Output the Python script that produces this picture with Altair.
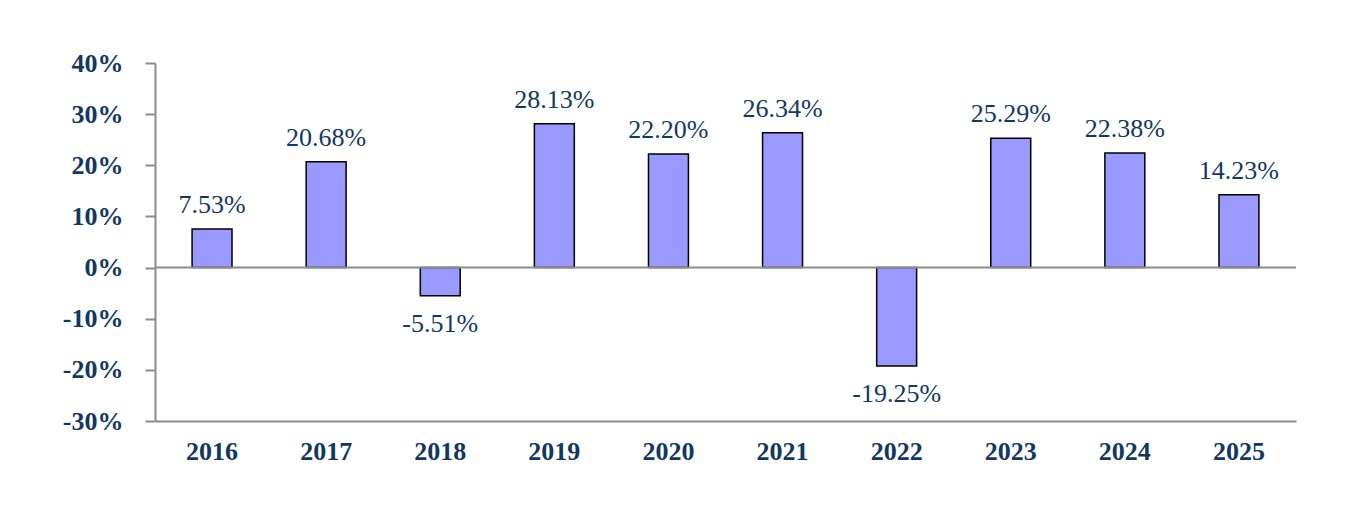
import altair as alt
import pandas as pd

years = ["2016", "2017", "2018", "2019", "2020", "2021", "2022", "2023", "2024", "2025"]
returns = [7.53, 20.68, -5.51, 28.13, 22.20, 26.34, -19.25, 25.29, 22.38, 14.23]
y_ticks = [-0.3, -0.2, -0.1, 0.0, 0.1, 0.2, 0.3, 0.4]

df = pd.DataFrame({"year": years, "ret": [r / 100 for r in returns]})
df["label"] = [f"{r:.2f}%" for r in returns]

navy = "#13385f"
axis_gray = "#8c8c8c"
serif = "Liberation Serif"

x_enc = alt.X(
    "year:N",
    sort=years,
    title=None,
    scale=alt.Scale(paddingInner=0.65, paddingOuter=0.325),
    axis=alt.Axis(
        labelAngle=0, ticks=False, domainColor=axis_gray, domainWidth=2,
        labelFont=serif, labelFontSize=26, labelFontWeight="bold",
        labelColor=navy, labelPadding=17,
    ),
)
y_scale = alt.Scale(domain=[-0.3, 0.4], nice=False)

bars = alt.Chart(df).mark_bar(
    color="#9999ff", stroke="#000000", strokeWidth=1.5
).encode(
    x=x_enc,
    y=alt.Y(
        "ret:Q", scale=y_scale, title=None,
        axis=alt.Axis(
            values=y_ticks, labelExpr="round(datum.value * 100) + '%'", grid=False,
            domainColor=axis_gray, domainWidth=2, tickColor=axis_gray, tickWidth=2,
            tickSize=10, labelFont=serif, labelFontSize=26,
            labelFontWeight="bold", labelColor=navy, labelPadding=22,
        ),
    ),
    y2=alt.datum(0),
)

zero = alt.Chart(pd.DataFrame({"z": [0.0]})).mark_rule(
    color=axis_gray, strokeWidth=2
).encode(y=alt.Y("z:Q", scale=y_scale))

pos_labels = alt.Chart(df[df["ret"] >= 0]).mark_text(
    font=serif, fontSize=26, color=navy, baseline="alphabetic", dy=-16
).encode(x=alt.X("year:N", sort=years), y=alt.Y("ret:Q", scale=y_scale), text="label:N")

neg_labels = alt.Chart(df[df["ret"] < 0]).mark_text(
    font=serif, fontSize=26, color=navy, baseline="alphabetic", dy=36
).encode(x=alt.X("year:N", sort=years), y=alt.Y("ret:Q", scale=y_scale), text="label:N")

chart = (
    alt.layer(bars, zero, pos_labels, neg_labels)
    .properties(
        width=1141, height=358,
        autosize=alt.AutoSizeParams(type="none"),
        padding={"left": 155, "top": 63, "right": 64, "bottom": 111},
        background="#ffffff",
    )
    .configure_view(stroke=None)
)

chart.save("out.html", embed_options={"renderer": "svg", "actions": False})
